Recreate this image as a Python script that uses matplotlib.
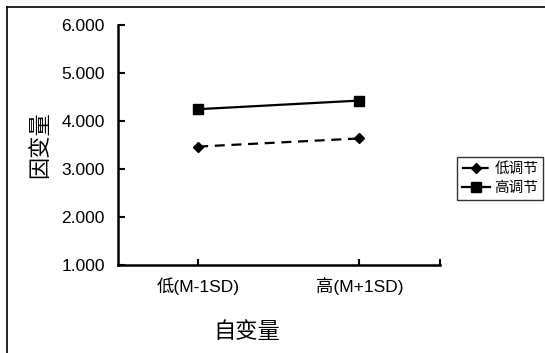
import matplotlib
matplotlib.use("Agg")
import matplotlib.pyplot as plt
from matplotlib.lines import Line2D

plt.rcParams['font.family'] = ['Liberation Sans', 'Noto Sans CJK SC']

categories = ['低(M-1SD)', '高(M+1SD)']
low_mod = [3.47, 3.64]
high_mod = [4.25, 4.43]
series_names = ['低调节', '高调节']
yticks = [1.0, 2.0, 3.0, 4.0, 5.0, 6.0]

fig = plt.figure(figsize=(5.45, 3.53), dpi=100)
ax = fig.add_axes([117.5/545, 1-265/353, (440-117.5)/545, (265-25.3)/353])

x = list(range(len(categories)))
ax.plot(x, low_mod, color='black', lw=1.6, ls=(0, (4.5, 3)), marker='D',
        markersize=5.5, label=series_names[0])
ax.plot(x, high_mod, color='black', lw=1.6, ls='-', marker='s',
        markersize=7, label=series_names[1])

ax.set_xlim(-0.5, 1.5)
ax.set_ylim(1, 6)
ax.set_yticks(yticks)
ax.set_yticklabels([f'{v:.3f}' for v in yticks], fontsize=12.5)
ax.set_xticks([0, 1, 1.5])
ax.set_xticklabels(categories + [''], fontsize=12.5)
ax.tick_params(axis='y', direction='in', length=5, width=1.5, pad=9)
ax.tick_params(axis='x', direction='in', length=4, width=1.5, pad=9)
for s in ['top', 'right']:
    ax.spines[s].set_visible(False)
for s in ['left', 'bottom']:
    ax.spines[s].set_linewidth(1.8)

fig.text(41/545, 1-145/353, '因变量', rotation=90, ha='center', va='center',
         fontsize=16, fontweight='light')
fig.text(247/545, 1-333/353, '自变量', ha='center', va='center',
         fontsize=16, fontweight='light')

leg = fig.legend(loc='upper left', bbox_to_anchor=(457/545, 1-157/353),
                 fontsize=10.5, frameon=True, fancybox=False, edgecolor='black',
                 handlelength=1.9, handletextpad=0.3, borderpad=0.35,
                 labelspacing=0.35, borderaxespad=0)
leg.get_frame().set_linewidth(1.0)

# outer frame (left and top edges visible)
fig.add_artist(Line2D([7/545, 7/545], [0, 1-7/353], transform=fig.transFigure, color='black', lw=1.2))
fig.add_artist(Line2D([7/545, 1], [1-7/353, 1-7/353], transform=fig.transFigure, color='black', lw=1.2))

fig.savefig('out.png', dpi=100)
